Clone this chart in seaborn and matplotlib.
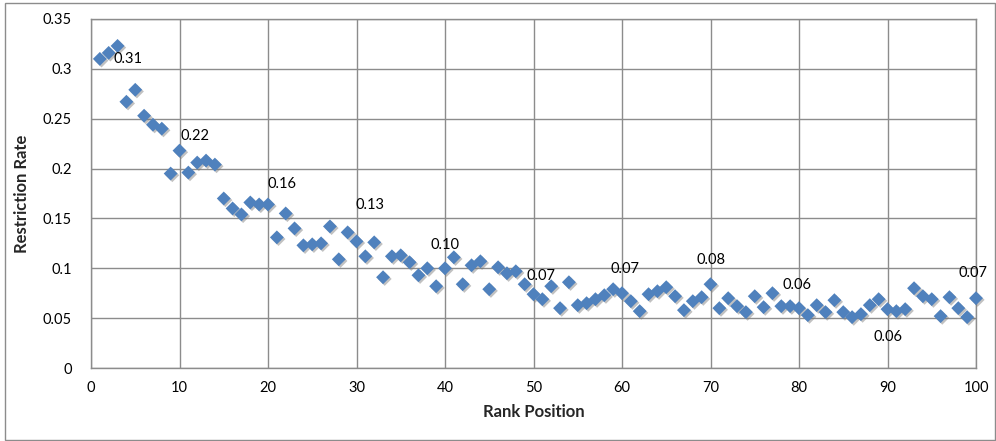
import numpy as np
import pandas as pd
import matplotlib
matplotlib.use('Agg')
import matplotlib.pyplot as plt
import matplotlib.patheffects as pe
from matplotlib.patches import Rectangle
import seaborn as sns

sns.set_style('white')
plt.rcParams['font.family'] = ['Lato', 'DejaVu Sans']

# rank positions 1..100 and restriction rates
rank = list(range(1, 101))
rate = [0.310, 0.316, 0.323, 0.267, 0.279, 0.253, 0.244, 0.240, 0.195, 0.218,
        0.196, 0.206, 0.208, 0.204, 0.170, 0.160, 0.154, 0.166, 0.164, 0.164,
        0.131, 0.155, 0.140, 0.123, 0.124, 0.125, 0.142, 0.109, 0.136, 0.127,
        0.112, 0.126, 0.091, 0.112, 0.113, 0.106, 0.093, 0.100, 0.082, 0.100,
        0.111, 0.084, 0.103, 0.107, 0.079, 0.101, 0.095, 0.097, 0.084, 0.074,
        0.069, 0.082, 0.060, 0.086, 0.063, 0.065, 0.069, 0.073, 0.079, 0.075,
        0.067, 0.057, 0.074, 0.077, 0.081, 0.072, 0.058, 0.067, 0.071, 0.084,
        0.060, 0.070, 0.062, 0.056, 0.072, 0.061, 0.075, 0.062, 0.062, 0.060,
        0.053, 0.063, 0.056, 0.068, 0.056, 0.051, 0.054, 0.063, 0.069, 0.059,
        0.057, 0.059, 0.080, 0.072, 0.069, 0.052, 0.071, 0.060, 0.051, 0.070]

# data labels shown on the chart
label_ranks = [1, 10, 20, 30, 40, 50, 60, 70, 80, 90, 100]
label_texts = ['0.31', '0.22', '0.16', '0.13', '0.10', '0.07', '0.07',
               '0.08', '0.06', '0.06', '0.07']
# label offsets from the point, in pixels (dx, dy)
label_offsets = [(28, 0), (15, 15), (14, 20), (13, 36), (0, 23), (7, 18),
                 (3, 24), (0, 24), (-2, 23), (0, -28), (-3, 25)]

df = pd.DataFrame({'rank': rank, 'rate': rate})

fig = plt.figure(figsize=(9.96, 4.41), dpi=100)
ax = fig.add_axes([91 / 996, 1 - 368 / 441, (976 - 91) / 996, (368 - 19) / 441])

blue = '#4F81BD'
pts = sns.scatterplot(data=df, x='rank', y='rate', marker='D', s=50,
                      color=blue, edgecolor='none', linewidth=0, ax=ax,
                      zorder=3)
coll = pts.collections[0]
coll.set_clip_on(False)
coll.set_path_effects([
    pe.SimplePatchShadow(offset=(1.2, -1.2), shadow_rgbFace='#777777', alpha=0.45),
    pe.Normal()])

for r, t, (dx, dy) in zip(label_ranks, label_texts, label_offsets):
    ax.annotate(t, xy=(r, rate[r - 1]), xytext=(dx * 0.72, dy * 0.72),
                textcoords='offset points', ha='center', va='center',
                fontsize=10.5, color='black', zorder=4)

ax.set_xlim(0, 100)
ax.set_ylim(0, 0.35)
ax.set_xticks(np.arange(0, 101, 10))
ax.set_yticks(np.arange(0, 0.351, 0.05))
ax.set_yticklabels(['0', '0.05', '0.1', '0.15', '0.2', '0.25', '0.3', '0.35'])
ax.tick_params(axis='both', length=0, labelsize=10.5, colors='black')
ax.tick_params(axis='y', pad=14)
ax.tick_params(axis='x', pad=9)
ax.grid(True, color='#8c8c8c', linewidth=1)
ax.set_axisbelow(True)
for s in ax.spines.values():
    s.set_color('#8c8c8c')
    s.set_linewidth(1)

ax.set_xlabel('Rank Position', fontsize=12, fontweight='bold', labelpad=7)
ax.set_ylabel('Restriction Rate', fontsize=12, fontweight='bold', labelpad=9)

fig.patches.append(Rectangle((5 / 996, 1 / 441), 1 - 6 / 996, 1 - 4 / 441,
                             transform=fig.transFigure, fill=False,
                             edgecolor='#8c8c8c', linewidth=1))

fig.savefig('out.png', dpi=100)
